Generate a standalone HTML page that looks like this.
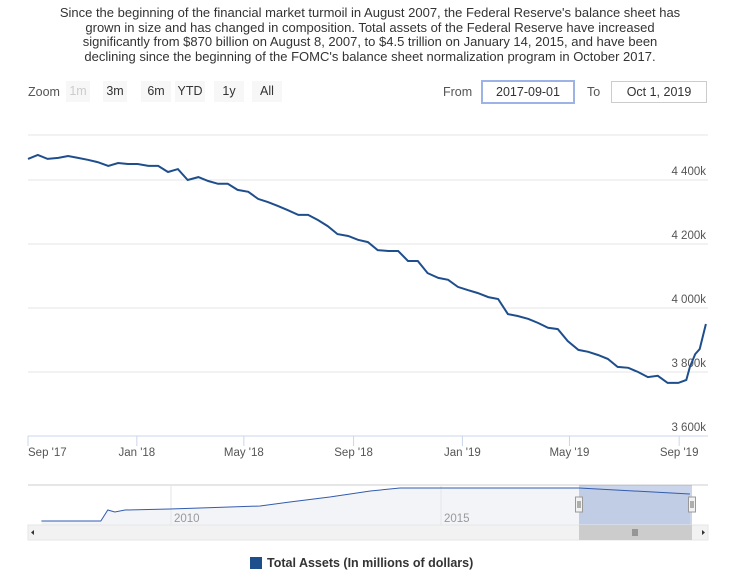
<!DOCTYPE html>
<html><head><meta charset="utf-8"><style>
body{margin:0;width:740px;height:575px;background:#fff;font-family:"Liberation Sans",sans-serif;overflow:hidden;position:relative}
.t{position:absolute;left:0;width:740px;top:6px;text-align:center;font-size:13px;line-height:14.7px;color:#333;white-space:nowrap}
.btn{position:absolute;top:81px;height:21px;line-height:21px;background:#f7f7f7;font-size:12.5px;color:#333;text-align:center}
.lbl{position:absolute;font-size:12.5px;color:#555}
.inp{position:absolute;top:81px;height:20px;line-height:20px;border:1px solid #ccc;font-size:12.5px;color:#333;text-align:center;background:#fff}
</style></head><body>
<div class="t">Since the beginning of the financial market turmoil in August 2007, the Federal Reserve's balance sheet has<br>grown in size and has changed in composition. Total assets of the Federal Reserve have increased<br>significantly from $870 billion on August 8, 2007, to $4.5 trillion on January 14, 2015, and have been<br>declining since the beginning of the FOMC's balance sheet normalization program in October 2017.</div>
<div class="lbl" style="left:28px;top:85px">Zoom</div>
<div class="btn" style="left:66px;width:24px;color:#ccc">1m</div>
<div class="btn" style="left:103px;width:24px">3m</div>
<div class="btn" style="left:141px;width:30px">6m</div>
<div class="btn" style="left:175px;width:30px">YTD</div>
<div class="btn" style="left:214px;width:30px">1y</div>
<div class="btn" style="left:252px;width:30px">All</div>
<div class="lbl" style="left:443px;top:85px">From</div>
<div class="inp" style="left:481px;width:90px;border:2px solid #9db3e8;top:80px">2017-09-01</div>
<div class="lbl" style="left:587px;top:85px">To</div>
<div class="inp" style="left:611px;width:94px">Oct 1, 2019</div>
<svg id="c" width="740" height="575" style="position:absolute;left:0;top:0"></svg>
<script>
const days=[0,11,22,34,45,56,67,78,90,101,112,123,135,146,157,168,179,191,202,213,224,235,247,258,269,280,291,303,314,325,336,347,359,370,381,392,404,415,426,437,448,460,471,482,493,504,516,527,538,549,561,572,583,594,605,617,628,639,650,661,673,684,695,706,717,729,738,742,748,753,760];
const values=[4466,4478,4466,4469,4475,4469,4463,4456,4444,4453,4450,4450,4444,4444,4425,4434,4400,4409,4397,4388,4388,4369,4363,4341,4331,4319,4306,4291,4291,4275,4256,4231,4225,4213,4206,4181,4178,4178,4147,4147,4109,4094,4088,4066,4056,4047,4034,4028,3981,3975,3966,3953,3938,3934,3897,3869,3863,3853,3841,3816,3813,3800,3784,3788,3766,3766,3775,3816,3856,3872,3950];
const yTicks=[3600,3800,4000,4200,4400];
const xTickLabels=["Sep '17","Jan '18","May '18","Sep '18","Jan '19","May '19","Sep '19"];
const xTickDays=[0,122,242,365,487,607,730];
const navYears=[2007.6,2008.70,2008.83,2008.96,2009.15,2009.98,2010.54,2011.65,2012.2,2012.94,2013.69,2014.24,2017.56,2019.61];
const navValues=[880,880,2090,1870,2090,2200,2310,2530,2970,3520,4180,4510,4510,3850];
const navTicks=[2010,2015];
const NS='http://www.w3.org/2000/svg',svg=document.getElementById('c');
function mk(t,a,p){const e=document.createElementNS(NS,t);for(const k in a)e.setAttribute(k,a[k]);(p||svg).appendChild(e);return e;}
const X=d=>28+d*0.892, Y=v=>436-(v-3600)*0.32;
for(const v of yTicks){
  const g=mk('line',{x1:28,x2:708,y1:Y(v),y2:Y(v),stroke:v==3600?'#ccd6eb':'#e6e6e6'});
  
  
  const t=mk('text',{x:706,y:Y(v)-5,'text-anchor':'end','font-size':'11.5',fill:'#555'});
  t.textContent=String(v).replace(/(\d)(\d{3})$/,'$1 $2')+'k';
  
  
}
mk('line',{x1:28,x2:708,y1:135,y2:135,stroke:'#e6e6e6'});
xTickLabels.forEach((l,i)=>{
  const x=X(xTickDays[i]);
  const tk=mk('line',{x1:x,x2:x,y1:436,y2:446,stroke:'#ccd6eb'});
  
  
  const t=mk('text',{x:i==0?28:x,y:456,'text-anchor':i==0?'start':'middle','font-size':'11.5',fill:'#555'});
  t.textContent=l;
  
  
});
const line=mk('path',{d:days.map((d,i)=>(i?'L':'M')+X(d).toFixed(1)+','+Y(values[i]).toFixed(1)).join(''),fill:'none',stroke:'#1f4e8c','stroke-width':2});


// navigator
const NX=yr=>171+(yr-2010)*54;
const NY=v=>529-v/110;
mk('line',{x1:28,x2:708,y1:485,y2:485,stroke:'#ccc'});
const pts=navYears.map((y,i)=>NX(y).toFixed(1)+','+NY(navValues[i]).toFixed(1));
const area=mk('path',{d:'M'+pts.join('L')+'L'+NX(navYears[navYears.length-1])+',525L'+NX(navYears[0])+',525Z',fill:'#f2f4f8'});


for(const yr of navTicks){
  mk('line',{x1:NX(yr),x2:NX(yr),y1:485,y2:525,stroke:'#e6e6e6'});
  const t=mk('text',{x:NX(yr)+3,y:522,'font-size':'11.5',fill:'#999'});
  t.textContent=yr;
  
  
}
const sel=mk('rect',{x:579,y:485,width:113,height:40,fill:'rgba(102,133,194,0.35)'});


const nl=mk('path',{d:'M'+pts.join('L'),fill:'none',stroke:'#335cad','stroke-width':1});


for(const hx of [579,692]){
  const h=mk('rect',{x:hx-3.5,y:497,width:7,height:15,fill:'#f2f2f2',stroke:'#999'});
  
  
  mk('line',{x1:hx-1,x2:hx-1,y1:501,y2:508,stroke:'#333','stroke-width':0.7});mk('line',{x1:hx+1,x2:hx+1,y1:501,y2:508,stroke:'#333','stroke-width':0.7});
}
const sb=mk('rect',{x:28,y:525,width:680,height:15,fill:'#f2f2f2',stroke:'#e6e6e6'});


const th=mk('rect',{x:579,y:525,width:113,height:15,fill:'#ccc'});


for(const dx of [-2,0,2])mk('line',{x1:635+dx,x2:635+dx,y1:529,y2:536,stroke:'#333','stroke-width':0.7});
mk('path',{d:'M34,530L31,532.5L34,535Z',fill:'#333'});mk('path',{d:'M702,530L705,532.5L702,535Z',fill:'#333'});
const ls=mk('rect',{x:250,y:557,width:12,height:12,fill:'#1f4e8c'});


const lt=mk('text',{x:267,y:567,'font-size':'12.5','font-weight':'bold',fill:'#333'});
lt.textContent='Total Assets (In millions of dollars)';


</script>
</body></html>
